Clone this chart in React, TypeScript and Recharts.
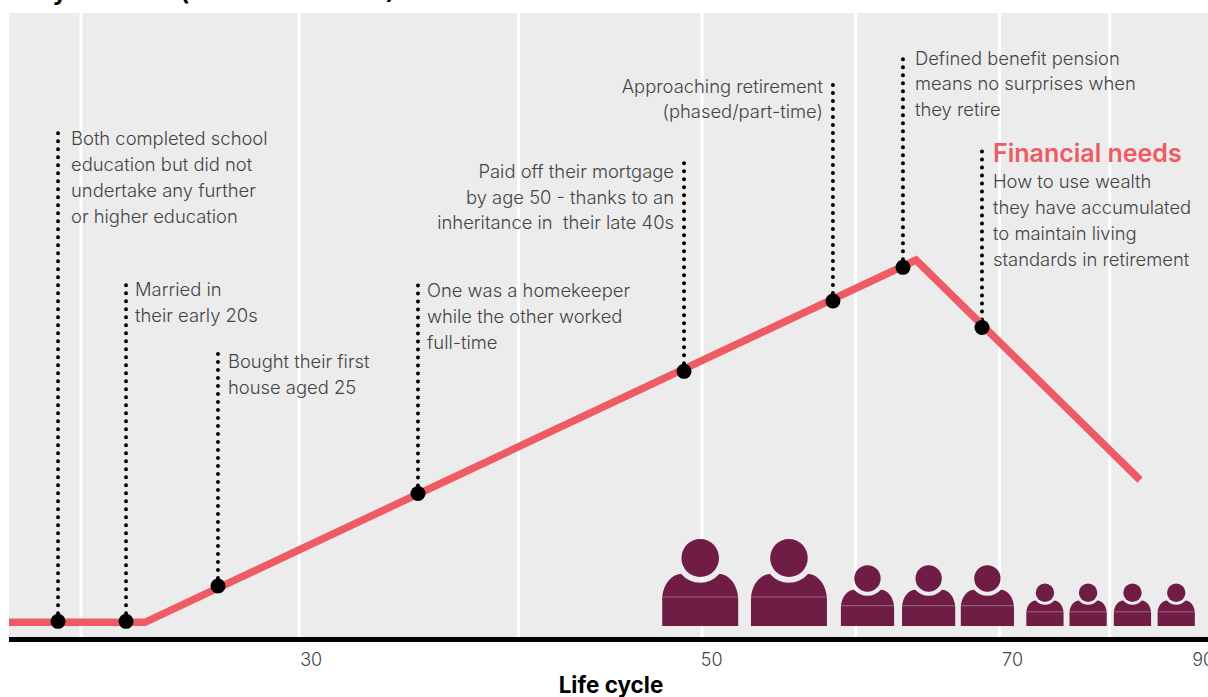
import { CartesianGrid, ComposedChart, Line, ReferenceLine, Scatter, XAxis, YAxis } from "recharts";

// x is position along the life cycle (0-100 of the plot), y is financial need (0-100)
const needX = [0, 11.34, 75.65, 94.33];
const needY = [2.75, 2.75, 60.57, 25.46];

const eventX = [4.09, 9.76, 17.43, 34.11, 56.3, 68.72, 74.56, 81.15];
const eventY = [2.9, 2.9, 8.54, 23.3, 42.8, 54.03, 59.4, 49.8];
const stemTop = [81.3, 57.2, 45.9, 56.9, 76.5, 89.5, 93.8, 78.9];

const notes = [
    ["Both completed school", "education but did not", "undertake any further", "or higher education"],
    ["Married in", "their early 20s"],
    ["Bought their first", "house aged 25"],
    ["One was a homekeeper", "while the other worked", "full-time"],
    ["Paid off their mortgage", "by age 50 - thanks to an", "inheritance in  their late 40s"],
    ["Approaching retirement", "(phased/part-time)"],
    ["Defined benefit pension", "means no surprises when", "they retire"],
    ["How to use wealth", "they have accumulated", "to maintain living", "standards in retirement"],
];
const notesOnLeft = [false, false, false, false, true, true, false, false];

const gridLines = [6, 24.2, 42.5, 57.8, 70.6, 82.6, 91.8];
const tickPositions = [25.2, 58.6, 83.7, 99.6];
const tickLabels = ["30", "50", "70", "90"];

const peopleX = [57.65, 65.05, 71.6, 76.7, 81.6, 86.4, 90, 93.7, 97.35];
const peopleY = [2.15, 2.15, 2.15, 2.15, 2.15, 2.15, 2.15, 2.15, 2.15];
const peopleScale = [1, 1, 0.7, 0.7, 0.7, 0.49, 0.49, 0.49, 0.49];

// small hand nudges for the note text, in px
const noteDx = [13, 9, 10, 9, -10, -10, 12, 11];
const noteDy = [15, 15, 16, 14, 18, 14, 13, 16];
const noteLeading = [26, 26, 26, 26, 25.5, 25, 25.5, 26];

const needData = needX.map((x, i) => ({ x, y: needY[i] }));
const eventData = eventX.map((x, i) => ({ x, y: eventY[i] }));
const noteData = eventX.map((x, i) => ({ x, y: stemTop[i], idx: i, lines: notes[i], left: notesOnLeft[i], heading: i === 7 }));
const peopleData = peopleX.map((x, i) => ({ x, y: peopleY[i], scale: peopleScale[i] }));

const font = "Inter, sans-serif";
const RED = "#ef5b65";
const PLUM = "#6f1d45";

function Note(props: any) {
    const { cx, cy, payload } = props;
    const tx = cx + noteDx[payload.idx];
    const top = cy + noteDy[payload.idx] + (payload.heading ? 27 : 0);
    return (
        <g fontFamily={font} fontSize={18.4} fontWeight={300} fill="#444" textAnchor={payload.left ? "end" : "start"}>
            {payload.heading && <text x={tx} y={cy + 17} fontSize={25} fontWeight={600} fill={RED}>Financial needs</text>}
            {payload.lines.map((l: string, i: number) => (
                <text key={i} x={tx} y={top + i * noteLeading[payload.idx]} xmlSpace="preserve">{l}</text>
            ))}
        </g>
    );
}

// head and shoulders, drawn at full size then scaled down for the children
function Person(props: any) {
    const { cx, cy, payload } = props;
    return (
        <g transform={`translate(${cx},${cy}) scale(${payload.scale})`} fill={PLUM}>
            <ellipse cx={0} cy={-68} rx={18.8} ry={19} />
            <path d="M-38 0 V-26 C-38 -42 -28 -52 -19 -52 A25 25 0 0 0 19 -52 C28 -52 38 -42 38 -26 V0 Z" />
            <line x1={-38} x2={38} y1={-29} y2={-29} stroke="#9a6885" strokeWidth={1} vectorEffect="non-scaling-stroke" />
        </g>
    );
}

export default function App() {
    return (
        <div style={{ position: "fixed", left: 0, top: 0, width: 1208, height: 697, overflow: "hidden", background: "#fff" }}>
            <ComposedChart
                width={1208}
                height={697}
                data={needData}
                margin={{ top: 13, right: 0, left: 9, bottom: 0 }}
            >
                <CartesianGrid fill="#ececec" stroke="#fff" strokeWidth={3} horizontal={false} verticalValues={gridLines} />
                <XAxis
                    dataKey="x"
                    type="number"
                    domain={[0, 100]}
                    ticks={tickPositions}
                    tickFormatter={(v) => tickLabels[tickPositions.indexOf(v)]}
                    axisLine={{ stroke: "#000", strokeWidth: 5 }}
                    tickLine={false}
                    tick={{ fontSize: 18, fontWeight: 300, fontFamily: font, fill: "#444" }}
                    tickMargin={8}
                    interval={0}
                    allowDataOverflow
                    height={57.5}
                />
                <YAxis type="number" domain={[0, 100]} hide width={0} />
                {eventX.map((x, i) => (
                    <ReferenceLine
                        key={x}
                        segment={[{ x, y: eventY[i] }, { x, y: stemTop[i] }]}
                        stroke="#000"
                        strokeWidth={4}
                        strokeLinecap="round"
                        strokeDasharray="0 8"
                    />
                ))}
                <Line dataKey="y" stroke={RED} strokeWidth={7.5} dot={false} isAnimationActive={false} strokeLinejoin="miter" />
                <Scatter data={eventData} dataKey="y" fill="#000" shape={(p: any) => <circle cx={p.cx} cy={p.cy} r={7.5} fill="#000" />} isAnimationActive={false} />
                <Scatter data={noteData} dataKey="y" shape={Note} isAnimationActive={false} />
                <Scatter data={peopleData} dataKey="y" shape={Person} isAnimationActive={false} />
                <text x={9} y={0} fontFamily={font} fontSize={23.6} fontWeight={700} fill="#000">Baby boomers (born before 1965)</text>
                <text x={611} y={693} textAnchor="middle" fontFamily={font} fontSize={22.5} fontWeight={700} fill="#000">Life cycle</text>
            </ComposedChart>
        </div>
    );
}
